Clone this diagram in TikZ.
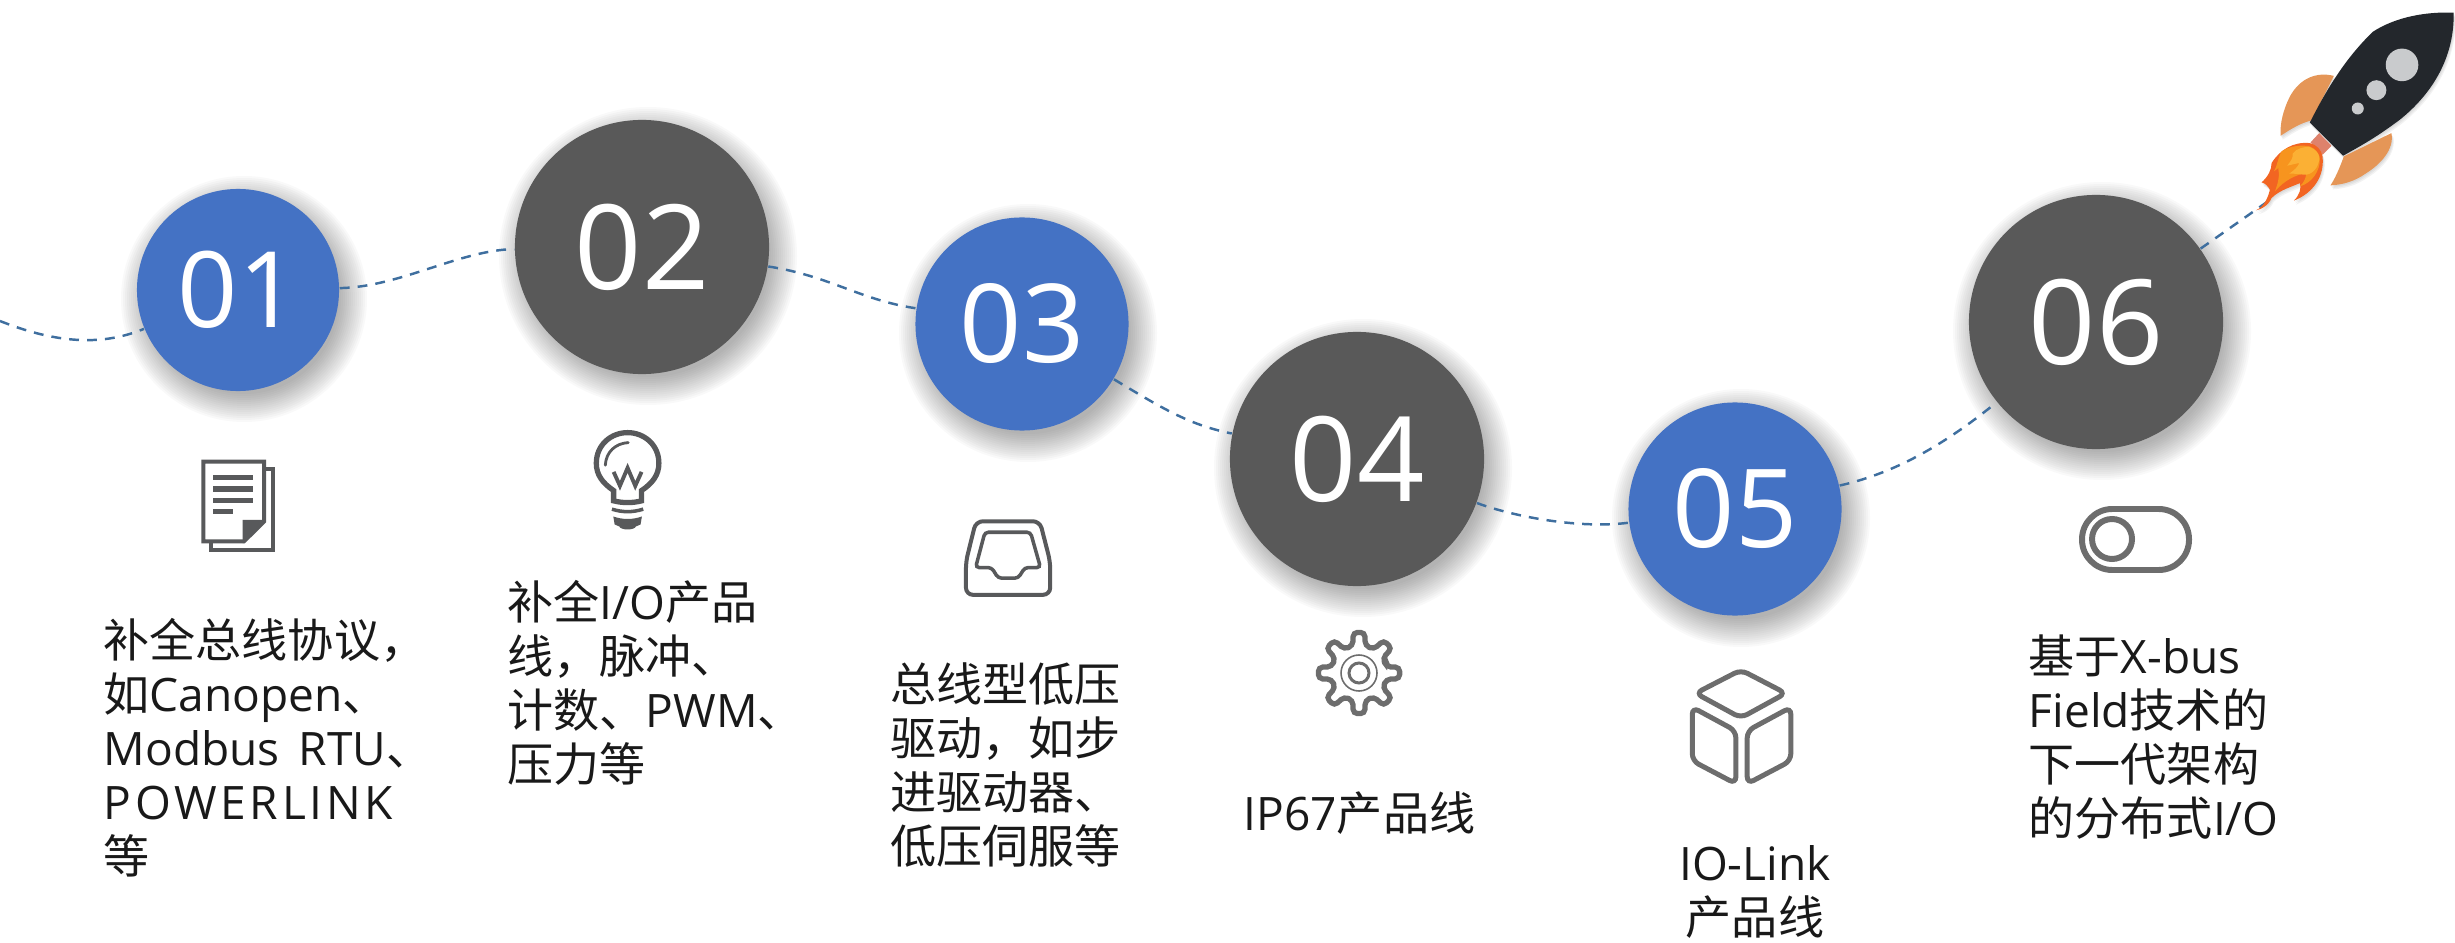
\documentclass[tikz,border=0pt]{standalone}
\usepackage{fontspec}
\setmainfont{Open Sans}
\newfontfamily\cjk{Noto Sans CJK SC}
\newcommand{\zh}[1]{{\cjk #1}}
\usetikzlibrary{
    backgrounds,
    calc
}
\definecolor{stepblue}{HTML}{4472C4}
\definecolor{stepgrey}{HTML}{595959}
\definecolor{trailblue}{HTML}{3F6F9F}
\definecolor{iconink}{HTML}{58595B}
\definecolor{iconlight}{HTML}{6D6D6D}
\definecolor{rockethull}{HTML}{23272C}
\definecolor{rocketport}{HTML}{C9CBCD}
\definecolor{rocketfin}{HTML}{E59657}
\definecolor{rocketneck}{HTML}{DE826C}
\definecolor{flameouter}{HTML}{F26522}
\definecolor{flamemiddle}{HTML}{F7941E}
\definecolor{flameinner}{HTML}{FBB034}
\tikzset{
    smalldot/.style={circle,fill=stepblue,text=white,inner sep=0pt,minimum size=2.13cm,
        font=\fontsize{31pt}{31pt}\selectfont},
    bigdot/.style={circle,fill=stepgrey,text=white,inner sep=0pt,minimum size=2.54cm,
        font=\fontsize{33.5pt}{33.5pt}\selectfont},
    caption/.style={inner sep=0pt,text=black!90,align=left,
        font=\fontsize{13.1pt}{15.36pt}\selectfont},
    trail/.style={draw=trailblue,line width=0.7pt,dash pattern=on 2.8pt off 2.3pt},
    icon/.style={x=0.003333cm,y=-0.003333cm}
}
% soft shadow under a step circle: #1 centre, #2 radius
\newcommand{\softshade}[2]{
    \foreach \d in {-6,-4,...,22}
        \fill[black,opacity=0.022] ($(#1)+(6,9)$) circle ({#2+\d});
}

\begin{document}
\begin{tikzpicture}[x=0.01cm,y=-0.01cm]
\useasboundingbox (0,0) rectangle (2455,943);

% Step circles
\node[smalldot,minimum size=2.02cm,font=\fontsize{30pt}{30pt}\selectfont] (n01) at (238,290) {01};
\node[bigdot] (n02) at (642,247) {02};
\node[smalldot] (n03) at (1022,324) {03};
\node[bigdot] (n04) at (1357,459) {04};
\node[smalldot] (n05) at (1735,509) {05};
\node[bigdot] (n06) at (2096,322) {06};
\coordinate (trailstart) at (0,321);
\coordinate (rocketfoot) at (2267,202);

% Shadows and dashed trail
\begin{scope}[on background layer]
\softshade{238,290}{101}
\softshade{642,247}{127}
\softshade{1022,324}{107}
\softshade{1357,459}{127}
\softshade{1735,509}{107}
\softshade{2096,322}{127}
\draw[trail] (trailstart) .. controls (60,345) and (105,345) .. (n01);
\draw[trail] (n01) .. controls (400,287) and (460,250) .. (n02);
\draw[trail] (n02) .. controls (830,276) and (860,300) .. (n03);
\draw[trail] (n03) .. controls (1165,410) and (1190,425) .. (n04);
\draw[trail] (n04) .. controls (1515,517) and (1580,529) .. (n05);
\draw[trail] (n05) .. controls (1900,472) and (1950,440) .. (n06);
\draw[trail] (n06) -- (rocketfoot);
\end{scope}

% Captions
\node[caption,anchor=west] (t01) at (103,748) {\zh{补全总线协议，}\\\zh{如}Canopen\zh{、}\\Modbus\hspace{2pt} RTU\zh{、}\\{\addfontfeature{LetterSpace=8}POWERLINK}\\\zh{等}};
\node[caption,anchor=west] (t02) at (507,683) {\zh{补全}I/O\zh{产品}\\\zh{线，脉冲、}\\\zh{计数、}PWM\zh{、}\\\zh{压力等}};
\node[caption,anchor=west] (t03) at (890,765) {\zh{总线型低压}\\\zh{驱动，如步}\\\zh{进驱动器、}\\\zh{低压伺服等}};
\node[caption,anchor=west] (t04) at (1243,813) {IP67\zh{产品线}};
\node[caption,align=center] (t05) at (1755,892) {IO-Link\\\zh{产品线}};
\node[caption,anchor=west] (t06) at (2028,737) {\zh{基于}X-bus\\Field\zh{技术的}\\\zh{下一代架构}\\\zh{的分布式}I/O};

% Document icon
\begin{scope}[shift={(170,400)},icon]
\draw[iconink,line width=1.14pt] (100,185) -- (283,185) -- (283,365) -- (222,425) -- (100,425) -- cycle;
\draw[iconink,line width=1.14pt] (288,208) -- (308,208) -- (308,450) -- (123,450) -- (123,430);
\fill[iconink] (218,360) -- (288,360) -- (222,430) -- (218,430) -- cycle;
\fill[iconink] (130,225) rectangle (250,241);
\fill[iconink] (130,259) rectangle (250,275);
\fill[iconink] (130,293) rectangle (250,309);
\fill[iconink] (130,327) rectangle (190,343);
\end{scope}

% Bulb icon
\begin{scope}[shift={(170,400)},icon]
\draw[iconink,line width=1.5pt] (1333,272) .. controls (1300,250) and (1281,225) .. (1281,190)
    .. controls (1281,135) and (1325,98) .. (1375,98) .. controls (1425,98) and (1469,135) .. (1469,190)
    .. controls (1469,225) and (1450,250) .. (1417,272) -- (1417,303)
    .. controls (1390,310) and (1360,310) .. (1333,303) -- cycle;
\draw[iconink,line width=0.8pt,line cap=round] (1377,128) .. controls (1340,130) and (1310,155) .. (1308,196);
\draw[iconink,line width=1.1pt] (1333,216) -- (1352,258) -- (1375,204) -- (1398,258) -- (1417,216);
\draw[iconink,line width=1pt] (1328,328) .. controls (1360,338) and (1390,338) .. (1422,328);
\fill[iconink] (1332,350) .. controls (1360,360) and (1390,360) .. (1418,350) -- (1414,374)
    -- (1400,380) .. controls (1395,392) and (1355,392) .. (1350,380) -- (1336,374) -- cycle;
\end{scope}

% Tray icon
\begin{scope}[shift={(930,480)},icon]
\draw[iconink,line width=1.14pt,rounded corners=2pt] (138,124) -- (330,124) -- (361,245) -- (361,345) -- (108,345) -- (108,245) -- cycle;
\draw[iconink,line width=1pt,rounded corners=1pt] (137,263) -- (165,157) -- (302,157) -- (332,263) -- (285,263) -- (265,295) -- (205,295) -- (185,263) -- cycle;
\end{scope}

% Gear icon
\begin{scope}[shift={(1359,673)}]
\draw[iconlight,line width=1.5pt,rounded corners=1.2pt] (-13:28)
    \foreach \a in {0,45,...,315} { -- (\a-13:28) -- (\a-8:41) -- (\a+8:41) -- (\a+13:28) } -- cycle;
\draw[iconlight,line width=0.45pt] (0,0) circle (18);
\draw[iconlight,line width=0.85pt] (0,0) circle (10);
\end{scope}

% Cube icon
\begin{scope}[shift={(1660,650)},icon,iconlight,line width=1.42pt,rounded corners=2pt]
\draw (243,60) -- (378,130) -- (243,204) -- (107,130) -- cycle;
\draw (97,172) -- (228,243) -- (228,402) -- (97,333) -- cycle;
\draw (393,172) -- (262,243) -- (262,402) -- (393,333) -- cycle;
\end{scope}

% Toggle icon
\draw[iconlight,line width=1.7pt,rounded corners=8.6pt] (2082,509) rectangle (2189,570);
\draw[iconlight,line width=1.7pt] (2112,539) circle (20);

% Rocket
\begin{scope}[shift={(2200,0)},icon]
\def\finleft{(402,228) .. controls (350,215) and (300,235) .. (270,290) .. controls (250,330) and (240,370) .. (242,408) .. controls (270,390) and (300,370) .. (335,362) -- cycle}
\def\finright{(575,400) .. controls (585,450) and (540,495) .. (500,520) .. controls (465,545) and (430,555) .. (392,557) .. controls (410,530) and (425,490) .. (432,470) -- cycle}
\def\hull{(762,38) .. controls (765,170) and (700,280) .. (600,360) .. controls (520,420) and (470,445) .. (430,468) -- (330,368) .. controls (360,310) and (420,190) .. (520,95) .. controls (590,50) and (680,35) .. (762,38) -- cycle}
\def\flame{(368,470) .. controls (375,530) and (340,580) .. (282,603) .. controls (300,585) and (305,565) .. (300,550) .. controls (280,560) and (240,570) .. (215,595) .. controls (205,620) and (180,630) .. (168,632) .. controls (195,620) and (205,590) .. (210,570) .. controls (205,560) and (195,550) .. (185,548) .. controls (205,530) and (215,510) .. (215,490) .. controls (240,450) and (280,425) .. (330,430) .. controls (350,435) and (365,450) .. (368,470) -- cycle}
\foreach \s in {1,2,3} {
    \begin{scope}[shift={(2*\s,4*\s)}]
    \fill[black,opacity=0.05] \finleft;
    \fill[black,opacity=0.05] \finright;
    \fill[black,opacity=0.05] \hull;
    \fill[black,opacity=0.05] \flame;
    \end{scope}
}
\fill[rocketfin] \finleft;
\fill[rocketfin] \finright;
\fill[rocketneck] (358,400) -- (395,438) -- (368,465) -- (332,428) -- cycle;
\fill[rockethull] \hull;
\fill[rocketport] (607,195) circle (49);
\fill[rocketport] (530,271) circle (30);
\fill[rocketport] (474,326) circle (18);
\fill[flameouter] \flame;
\fill[flamemiddle] (360,475) .. controls (362,515) and (335,550) .. (300,560) .. controls (315,545) and (320,530) .. (318,520)
    .. controls (290,525) and (255,540) .. (225,575) .. controls (235,550) and (240,525) .. (235,505) -- (222,515)
    .. controls (235,490) and (232,480) .. (245,455) .. controls (270,437) and (310,435) .. (330,440) .. controls (345,445) and (358,460) .. (360,475) -- cycle;
\fill[flameinner] (358,470) .. controls (360,495) and (345,520) .. (320,525) .. controls (300,525) and (280,520) .. (268,522)
    .. controls (285,510) and (295,500) .. (298,490) .. controls (285,492) and (275,495) .. (262,498) .. controls (275,480) and (280,475) .. (278,462)
    .. controls (290,445) and (315,440) .. (330,442) .. controls (345,448) and (355,458) .. (358,470) -- cycle;
\end{scope}

\end{tikzpicture}
\end{document}
